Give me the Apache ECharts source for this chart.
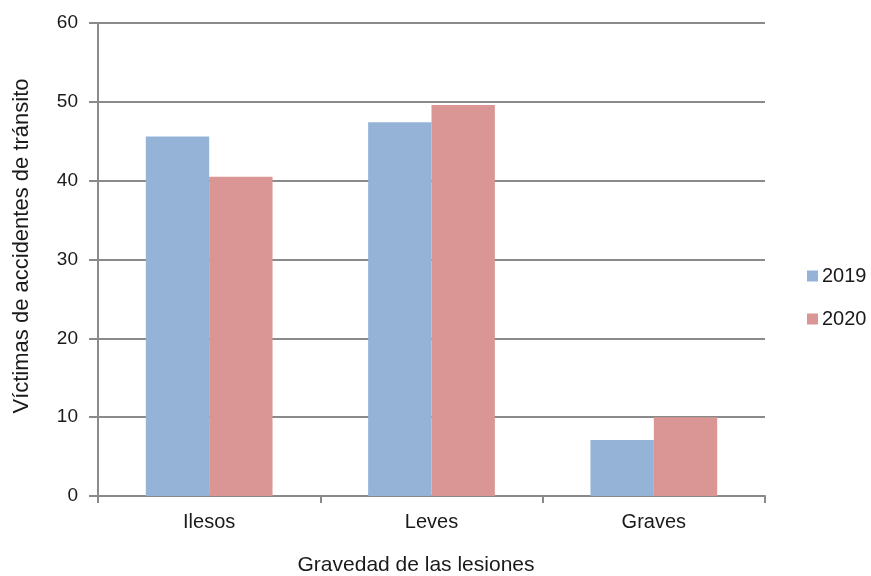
<!DOCTYPE html>
<html><head><meta charset="utf-8">
<script src="https://cdn.jsdelivr.net/npm/echarts@6/dist/echarts.min.js"></script>
<style>html,body{margin:0;padding:0;background:#fff}#c{width:871px;height:576px}</style>
</head><body><div id="c"></div>
<script>
const categories = ['Ilesos', 'Leves', 'Graves'];
const seriesNames = ['2019', '2020'];
const values2019 = [45.6, 47.4, 7.1];
const values2020 = [40.5, 49.6, 10.0];
const yTicks = [0, 10, 20, 30, 40, 50, 60];
const yTitle = 'Víctimas de accidentes de tránsito';
const xTitle = 'Gravedad de las lesiones';

const font = '"Liberation Sans", Arial, sans-serif';
const axisColor = '#8a8a8a';
const textColor = '#1a1a1a';
const chart = echarts.init(document.getElementById('c'));
chart.setOption({
  animation: false,
  textStyle: { fontFamily: font },
  grid: { left: 98, right: 106, top: 23, bottom: 80 },
  legend: {
    orient: 'vertical', left: 807, top: 266, padding: 0, itemWidth: 11, itemHeight: 11, itemGap: 23,
    icon: 'rect',
    textStyle: { fontSize: 20, color: textColor, fontFamily: font, padding: [0,0,0,-1] },
    data: seriesNames
  },
  xAxis: {
    type: 'category', data: categories,
    axisLine: { lineStyle: { color: axisColor, width: 2 } },
    axisTick: { show: true, alignWithLabel: false, length: 7, lineStyle: { color: axisColor, width: 2 } },
    axisLabel: { fontSize: 20, color: textColor, margin: 16, fontFamily: font }
  },
  yAxis: {
    type: 'value', min: yTicks[0], max: yTicks[yTicks.length-1], interval: 10,
    axisLine: { show: true, lineStyle: { color: axisColor, width: 2 } },
    axisTick: { show: true, length: 9, lineStyle: { color: axisColor, width: 2 } },
    splitLine: { lineStyle: { color: axisColor, width: 2 } },
    axisLabel: { fontSize: 19, color: textColor, margin: 20, fontFamily: font }
  },
  graphic: [
    { type: 'text', x: 416, y: 565, style: { text: xTitle, font: '21px ' + font, fill: textColor, textAlign: 'center', textVerticalAlign: 'middle' } },
    { type: 'text', x: 22, y: 246, rotation: Math.PI/2, style: { text: yTitle, font: '22px ' + font, fill: textColor, textAlign: 'center', textVerticalAlign: 'middle' } }
  ],
  series: [
    { name: seriesNames[0], type: 'bar', data: values2019, barGap: '0%', barCategoryGap: '43%',
      itemStyle: { color: '#95B3D7' } },
    { name: seriesNames[1], type: 'bar', data: values2020,
      itemStyle: { color: '#D99694' } }
  ]
});
</script></body></html>
